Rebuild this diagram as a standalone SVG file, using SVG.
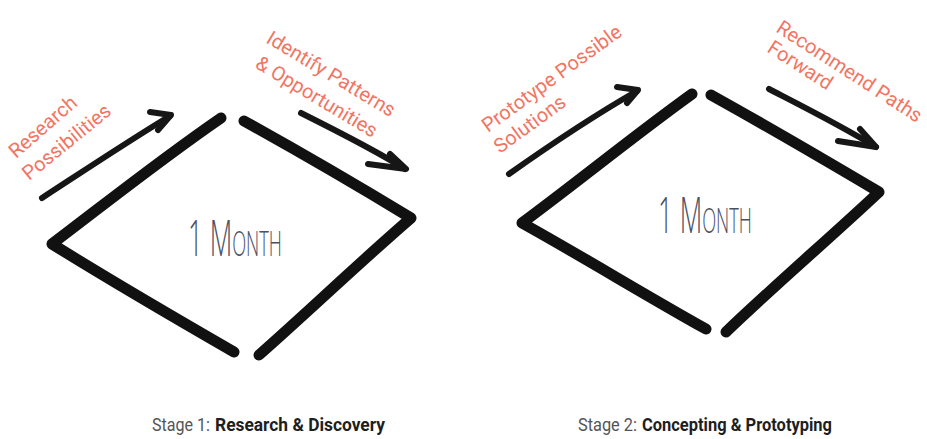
<svg xmlns="http://www.w3.org/2000/svg" width="927" height="439" viewBox="0 0 927 439">
<style>
.side{fill:none;stroke:#111;stroke-width:11;stroke-linecap:round;stroke-linejoin:round}
.arr{fill:none;stroke:#161616;stroke-width:6;stroke-linecap:round;stroke-linejoin:round}
.lbl{font-family:Roboto,"Liberation Sans",sans-serif;font-size:20px;fill:#f27563}
.mon{font-family:"Open Sans","DejaVu Sans",sans-serif;font-weight:300;font-size:50px;font-variant:small-caps;fill:#4b4f63}
.cap{font-family:Roboto,"Liberation Sans",sans-serif;font-size:19px}
.n{fill:#555}
.b{fill:#1e1e1e;font-weight:bold}
</style>
<rect width="927" height="439" fill="#fff"/>

<g id="stage1">
  <g id="diamond1">
    <path class="side" d="M221,118 C160,160 110,200 52,244 C110,280 175,318 234,352"/>
    <path class="side" d="M244,121 C300,152 355,184 411,218 C360,262 310,310 259,355"/>
  </g>
  <text id="month1" class="mon" x="188" y="256" textLength="94" lengthAdjust="spacingAndGlyphs">1 Month</text>
  <g id="label-research">
    <text class="lbl" transform="translate(16,159) rotate(-41)">Research</text>
    <text class="lbl" transform="translate(29,181) rotate(-39)">Possibilities</text>
  </g>
  <g id="label-identify">
    <text class="lbl" transform="translate(265,42) rotate(31)">Identify Patterns</text>
    <text class="lbl" transform="translate(254,67) rotate(31)">&amp; Opportunities</text>
  </g>
  <g id="caption1">
    <text class="cap n" x="152" y="431" textLength="58" lengthAdjust="spacingAndGlyphs">Stage 1:</text>
    <text class="cap b" x="215" y="431" textLength="170" lengthAdjust="spacingAndGlyphs">Research &amp; Discovery</text>
  </g>
</g>

<g id="stage2">
  <g id="diamond2">
    <path class="side" d="M692,94 C635,135 580,180 522,223 C585,258 645,295 706,329"/>
    <path class="side" d="M711,95 C765,125 825,160 879,192 C830,238 775,285 726,332"/>
  </g>
  <text id="month2" class="mon" x="658" y="233" textLength="94" lengthAdjust="spacingAndGlyphs">1 Month</text>
  <g id="label-prototype">
    <text class="lbl" transform="translate(488,133) rotate(-36)">Prototype Possible</text>
    <text class="lbl" transform="translate(500,154) rotate(-36)">Solutions</text>
  </g>
  <g id="label-recommend">
    <text class="lbl" font-size="18" transform="translate(775,31) rotate(33)">Recommend Paths</text>
    <text class="lbl" font-size="18" transform="translate(766,51) rotate(33)">Forward</text>
  </g>
  <g id="caption2">
    <text class="cap n" x="578" y="431" textLength="59" lengthAdjust="spacingAndGlyphs">Stage 2:</text>
    <text class="cap b" x="642" y="431" textLength="190" lengthAdjust="spacingAndGlyphs">Concepting &amp; Prototyping</text>
  </g>
</g>

<g id="connectors">
  <path class="arr" d="M42,198 C85,170 130,140 170,116"/>
  <path class="arr" d="M150,112 L171,115 L158,130"/>
  <path class="arr" d="M301,113 C335,130 375,150 405,169"/>
  <path class="arr" d="M390,154 L406,169 L368,164"/>
  <path class="arr" d="M509,174 C550,145 595,115 637,91"/>
  <path class="arr" d="M617,87 L638,90 L627,103"/>
  <path class="arr" d="M769,89 C800,105 840,125 876,147"/>
  <path class="arr" d="M860,129 L876,147 L838,141"/>
</g>
</svg>
